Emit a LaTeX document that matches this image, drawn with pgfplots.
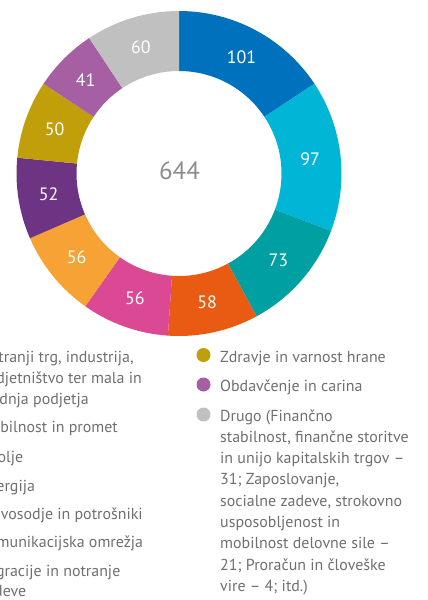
\documentclass[border=0pt]{standalone}
\usepackage{pgfplots}
\pgfplotsset{compat=1.18}
\usepackage{pgfplotstable}
\usepackage{fontspec}
\setmainfont{PT Sans}

\definecolor{cA}{HTML}{0071BC}
\definecolor{cB}{HTML}{00B5D6}
\definecolor{cC}{HTML}{009FA1}
\definecolor{cD}{HTML}{E95B12}
\definecolor{cE}{HTML}{DB4893}
\definecolor{cF}{HTML}{F6A235}
\definecolor{cG}{HTML}{6E3484}
\definecolor{cH}{HTML}{C09F0B}
\definecolor{cI}{HTML}{A55FA2}
\definecolor{cJ}{HTML}{C1C0C1}
\definecolor{legtxt}{HTML}{6F6F6F}
\definecolor{totaltxt}{HTML}{8C8C8C}

% slices, clockwise from 12 o'clock
\pgfplotstableread{
value colour
101 cA
97  cB
73  cC
58  cD
56  cE
56  cF
52  cG
50  cH
41  cI
60  cJ
}\piedata

\tikzset{
  slicelabel/.style={text=white, font=\fontsize{18}{18}\selectfont, inner sep=0pt},
  totallabel/.style={text=totaltxt, font=\fontsize{25}{25}\selectfont, inner sep=0pt},
  legtext/.style={text=legtxt, font=\fontsize{16}{16}\selectfont, inner sep=0pt, anchor=base west},
}
% x, baseline y (pixels from top), text
\newcommand\legline[3]{\node[legtext] at (axis cs:#1,#2) {#3};}
\newcommand\legdot[3]{\fill[#3] (axis cs:#1,#2) circle[radius=7bp];}

\def\cx{179}
\def\cy{173.5}
\def\Lx{-21}
\def\Rx{220}

\begin{document}
\begin{tikzpicture}
\useasboundingbox (0,0) rectangle (428bp,600bp);
\clip (0,0) rectangle (428bp,600bp);
\begin{axis}[
    width=428bp,
    height=600bp,
    scale only axis,
    xmin=0, xmax=428,
    ymin=0, ymax=600,
    y dir=reverse,
    hide axis,
    clip=false,
]
\pgfplotstablegetrowsof{\piedata}
\pgfmathtruncatemacro\nrows{\pgfplotsretval-1}
\def\total{0}
\pgfplotsforeachungrouped \i in {0,...,\nrows}{%
  \pgfplotstablegetelem{\i}{value}\of\piedata
  \pgfmathsetmacro\total{\total+\pgfplotsretval}%
}
\def\cum{0}
\pgfplotsforeachungrouped \i in {0,...,\nrows}{%
  \pgfplotstablegetelem{\i}{value}\of\piedata
  \let\sliceval\pgfplotsretval
  \pgfplotstablegetelem{\i}{colour}\of\piedata
  \let\slicecol\pgfplotsretval
  \pgfmathsetmacro\aA{90-\cum/\total*360}%
  \pgfmathsetmacro\aB{90-(\cum+\sliceval)/\total*360}%
  \pgfmathsetmacro\aM{(\aA+\aB)/2}%
  \edef\temp{%
    \noexpand\fill[\slicecol] (axis cs:\cx,\cy) ++(\aA:162.5bp)
      arc[start angle=\aA, end angle=\aB, radius=162.5bp]
      -- ++(\aB:-60bp)
      arc[start angle=\aB, end angle=\aA, radius=102.5bp] -- cycle;
    \noexpand\path (axis cs:\cx,\cy) ++(\aM:132bp) node[slicelabel] {\sliceval};
  }\temp
  \pgfmathsetmacro\cum{\cum+\sliceval}%
}
\pgfmathtruncatemacro\totalint{\total}
\edef\temp{\noexpand\node[totallabel] at (axis cs:179.5,171) {\totalint};}\temp

% legend, left column (cut off at the page edge)
\legdot{-37.5}{356}{cA}
\legline{\Lx}{362.5}{Notranji trg, industrija,}
\legline{\Lx}{383.3}{podjetništvo ter mala in}
\legline{\Lx}{404.1}{srednja podjetja}
\legdot{-37.5}{426}{cB}
\legline{\Lx}{432.7}{Mobilnost in promet}
\legdot{-37.5}{456}{cC}
\legline{\Lx}{462.7}{Okolje}
\legdot{-37.5}{484}{cD}
\legline{\Lx}{491}{Energija}
\legdot{-37.5}{512}{cE}
\legline{\Lx}{519.3}{Pravosodje in potrošniki}
\legdot{-37.5}{541}{cF}
\legline{\Lx}{547.7}{Komunikacijska omrežja}
\legdot{-37.5}{569}{cG}
\legline{\Lx}{576}{Migracije in notranje}
\legline{\Lx}{596}{zadeve}

% legend, right column
\legdot{203.5}{355}{cH}
\legline{\Rx}{362}{Zdravje in varnost hrane}
\legdot{203.5}{384.5}{cI}
\legline{\Rx}{391}{Obdavčenje in carina}
\legdot{203.5}{414.5}{cJ}
\legline{\Rx}{421}{Drugo (Finančno}
\legline{\Rx}{442.3}{stabilnost, finančne storitve}
\legline{\Rx}{463.6}{in unijo kapitalskih trgov –}
\legline{\Rx}{484.9}{31; Zaposlovanje,}
\legline{\Rx}{506.2}{socialne zadeve, strokovno}
\legline{\Rx}{527.5}{usposobljenost in}
\legline{\Rx}{548.8}{mobilnost delovne sile –}
\legline{\Rx}{570.1}{21; Proračun in človeške}
\legline{\Rx}{591.4}{vire – 4; itd.)}
\end{axis}
\end{tikzpicture}
\end{document}
